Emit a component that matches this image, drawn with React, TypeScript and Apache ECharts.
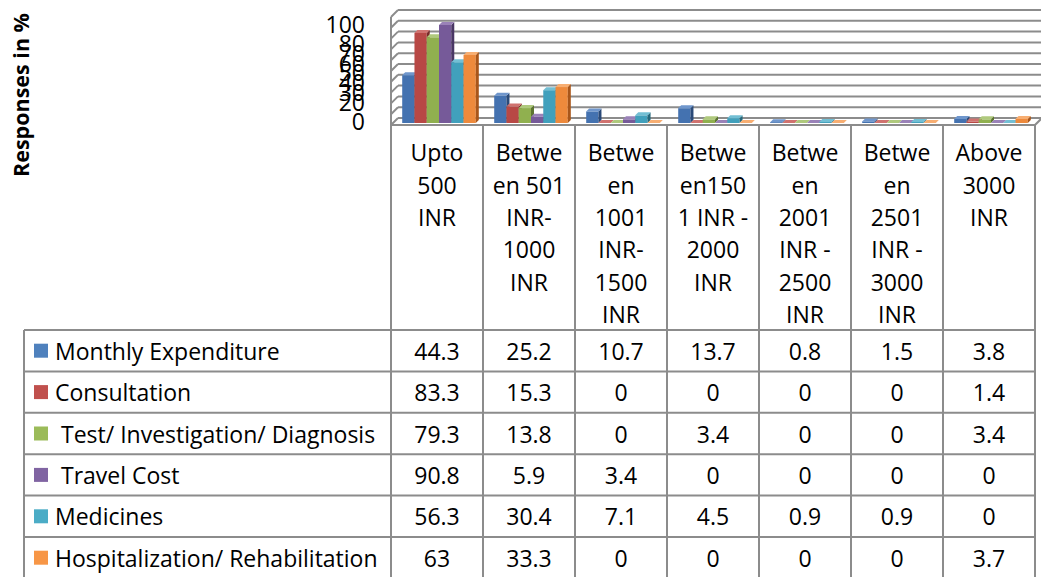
import React, { useEffect, useRef } from "react";
import * as echarts from "echarts";

// ---------- data ----------
const categories = [
  "Upto 500 INR",
  "Between 501 INR-1000 INR",
  "Between 1001 INR-1500 INR",
  "Between1501 INR - 2000 INR",
  "Between 2001 INR - 2500 INR",
  "Between 2501 INR - 3000 INR",
  "Above 3000 INR",
];
const categoryTickLabels = [
  "Upto\n500\nINR",
  "Betwe\nen 501\nINR-\n1000\nINR",
  "Betwe\nen\n1001\nINR-\n1500\nINR",
  "Betwe\nen150\n1 INR -\n2000\nINR",
  "Betwe\nen\n2001\nINR -\n2500\nINR",
  "Betwe\nen\n2501\nINR -\n3000\nINR",
  "Above\n3000\nINR",
];
const seriesNames = [
  "Monthly Expenditure",
  "Consultation",
  " Test/ Investigation/ Diagnosis",
  " Travel Cost",
  "Medicines",
  "Hospitalization/ Rehabilitation",
];
const monthlyExpenditure = [44.3, 25.2, 10.7, 13.7, 0.8, 1.5, 3.8];
const consultation = [83.3, 15.3, 0, 0, 0, 0, 1.4];
const testInvestigation = [79.3, 13.8, 0, 3.4, 0, 0, 3.4];
const travelCost = [90.8, 5.9, 3.4, 0, 0, 0, 0];
const medicines = [56.3, 30.4, 7.1, 4.5, 0.9, 0.9, 0];
const hospitalization = [63, 33.3, 0, 0, 0, 0, 3.7];
const seriesValues = [
  monthlyExpenditure,
  consultation,
  testInvestigation,
  travelCost,
  medicines,
  hospitalization,
];
const yTicks = [0, 10, 20, 30, 40, 50, 60, 70, 80, 90, 100];
const yTitle = "Responses in %";

// ---------- styles ----------
const FONT = "'Open Sans', 'DejaVu Sans', sans-serif";
const FS = 23;
const keyColors = ["#4F81BD", "#C0504D", "#9BBB59", "#8064A2", "#4BACC6", "#F79646"];
const frontColors = ["#4472B0", "#B84845", "#90B04F", "#765A99", "#41A0BC", "#EE8A3C"];
const sideColors = ["#2A4A78", "#7A2A28", "#5C7430", "#4A3764", "#25687C", "#A9561A"];
const topColors = ["#6F96CC", "#D0726F", "#AFC97D", "#9A82B8", "#73BFD4", "#F7AE72"];
const LINE = "#8C8C8C";

// layout
const GRID_LEFT = 391;
const GRID_TOP = 17;
const COL_W = 92;
const GRID_W = COL_W * 7;
const GRID_H = 108;
const DEPTH = 7;
const BAR_OFF = 2;
const BAR_D = 3;
const TABLE_TOP = 330;
const ROW_H = 41.4;
const TABLE_LEFT = 24;

export default function App() {
  const ref = useRef<HTMLDivElement>(null);

  useEffect(() => {
    if (!ref.current) return;
    const chart = echarts.init(ref.current, undefined, { renderer: "svg" });

    const wallSeries: any = {
      type: "custom",
      name: "walls",
      xAxisIndex: 0,
      yAxisIndex: 0,
      clip: false,
      silent: true,
      z: 1,
      data: yTicks.map((v) => [0, v]),
      encode: { x: 0, y: 1 },
      renderItem: (params: any, api: any) => {
        const cs = params.coordSys;
        const left = cs.x;
        const right = cs.x + cs.width;
        const v = api.value(1);
        const y = api.coord([0, v])[1];
        const ls = { stroke: LINE, lineWidth: 2 };
        const children: any[] = [
          { type: "line", shape: { x1: left, y1: y, x2: left + DEPTH, y2: y - DEPTH }, style: ls },
          { type: "line", shape: { x1: left + DEPTH, y1: y - DEPTH, x2: right + DEPTH, y2: y - DEPTH }, style: ls },
        ];
        if (v === 0) {
          children.push(
            { type: "line", shape: { x1: left, y1: y, x2: right, y2: y }, style: ls },
            { type: "line", shape: { x1: right, y1: y, x2: right + DEPTH, y2: y - DEPTH }, style: ls }
          );
          const yTop = api.coord([0, 100])[1];
          children.push({ type: "line", shape: { x1: left, y1: y, x2: left, y2: yTop }, style: ls });
        }
        return { type: "group", children };
      },
    };

    const barSeries = seriesValues.map((vals, k) => ({
      type: "custom",
      name: seriesNames[k].trim(),
      xAxisIndex: 0,
      yAxisIndex: 0,
      clip: false,
      z: 2 + k,
      data: vals.map((v, i) => [i, v]),
      encode: { x: 0, y: 1 },
      renderItem: (params: any, api: any) => {
        const ci = api.value(0);
        const v = api.value(1);
        const base = api.coord([ci, 0]);
        const top = api.coord([ci, v]);
        const catW = api.size([1, 0])[0];
        const w = (catW * 0.8) / 6;
        const x = base[0] - catW * 0.4 + BAR_OFF + k * w;
        const yb = base[1] - BAR_OFF;
        const yt = top[1] - BAR_OFF;
        const d = BAR_D;
        return {
          type: "group",
          children: [
            { type: "rect", shape: { x, y: yt, width: w, height: yb - yt }, style: { fill: frontColors[k] } },
            {
              type: "polygon",
              shape: { points: [[x + w, yt], [x + w + d, yt - d], [x + w + d, yb - d], [x + w, yb]] },
              style: { fill: sideColors[k] },
            },
            {
              type: "polygon",
              shape: { points: [[x, yt], [x + d, yt - d], [x + w + d, yt - d], [x + w, yt]] },
              style: { fill: topColors[k] },
            },
          ],
        };
      },
    }));

    // table graphics
    const g: any[] = [];
    const ls = { stroke: LINE, lineWidth: 2 };
    const nRows = seriesNames.length;
    const tableRight = GRID_LEFT + GRID_W;
    for (let j = 0; j <= categories.length; j++) {
      const x = GRID_LEFT + j * COL_W;
      g.push({ type: "line", shape: { x1: x, y1: GRID_TOP + GRID_H, x2: x, y2: TABLE_TOP + ROW_H * nRows + 2 }, style: ls });
    }
    g.push({ type: "line", shape: { x1: TABLE_LEFT, y1: TABLE_TOP, x2: TABLE_LEFT, y2: TABLE_TOP + ROW_H * nRows + 2 }, style: ls });
    for (let r = 0; r <= nRows; r++) {
      const y = TABLE_TOP + r * ROW_H;
      g.push({ type: "line", shape: { x1: TABLE_LEFT, y1: y, x2: tableRight, y2: y }, style: ls });
    }
    seriesNames.forEach((name, r) => {
      const cy = TABLE_TOP + r * ROW_H + ROW_H / 2;
      g.push({ type: "rect", shape: { x: 34, y: cy - 7, width: 14, height: 14 }, style: { fill: keyColors[r] } });
      const lead = name.length - name.replace(/^\s+/, "").length;
      g.push({
        type: "text",
        x: 55 + lead * 6,
        y: cy,
        style: {
          text: name.trim(),
          fill: "#000",
          fontSize: FS,
          fontFamily: FONT,
          textAlign: "left",
          textVerticalAlign: "middle",
          align: "left",
          verticalAlign: "middle",
        },
      });
      seriesValues[r].forEach((v, j) => {
        g.push({
          type: "text",
          x: GRID_LEFT + j * COL_W + COL_W / 2,
          y: cy,
          style: {
            text: String(v),
            fill: "#000",
            fontSize: FS,
            fontFamily: FONT,
            textAlign: "center",
            textVerticalAlign: "middle",
            align: "center",
            verticalAlign: "middle",
          },
        });
      });
    });
    g.push({
      type: "text",
      x: 20,
      y: 95,
      rotation: Math.PI / 2,
      style: {
        text: yTitle,
        fill: "#000",
        fontSize: 21.5,
        fontWeight: "bold",
        fontFamily: FONT,
        textAlign: "center",
        textVerticalAlign: "middle",
        align: "center",
        verticalAlign: "middle",
      },
    });

    const option: any = {
      animation: false,
      backgroundColor: "#fff",
      grid: [
        { left: GRID_LEFT, top: GRID_TOP, width: GRID_W, height: GRID_H },
        { left: 373, top: 23.5, width: 10, height: 97.5 },
      ],
      xAxis: [
        {
          type: "category",
          gridIndex: 0,
          data: categoryTickLabels,
          boundaryGap: true,
          axisLine: { show: false },
          axisTick: { show: false },
          axisLabel: {
            interval: 0,
            margin: 11,
            color: "#000",
            fontSize: FS,
            fontFamily: FONT,
            lineHeight: 32.4,
            align: "center",
          },
        },
        { type: "value", gridIndex: 1, show: false },
      ],
      yAxis: [
        { type: "value", gridIndex: 0, min: 0, max: 100, interval: 10, show: false },
        {
          type: "value",
          gridIndex: 1,
          min: 0,
          max: 100,
          interval: 10,
          axisLine: { show: false },
          axisTick: { show: false },
          splitLine: { show: false },
          axisLabel: {
            margin: 8,
            color: "#000",
            fontSize: FS,
            fontFamily: FONT,
            hideOverlap: false,
            showMinLabel: true,
            showMaxLabel: true,
          },
        },
      ],
      series: [wallSeries, ...barSeries],
      graphic: g,
    };
    chart.setOption(option);
    return () => chart.dispose();
  }, []);

  return (
    <div
      ref={ref}
      style={{ position: "fixed", left: 0, top: 0, width: 1041, height: 577, background: "#fff" }}
    />
  );
}
